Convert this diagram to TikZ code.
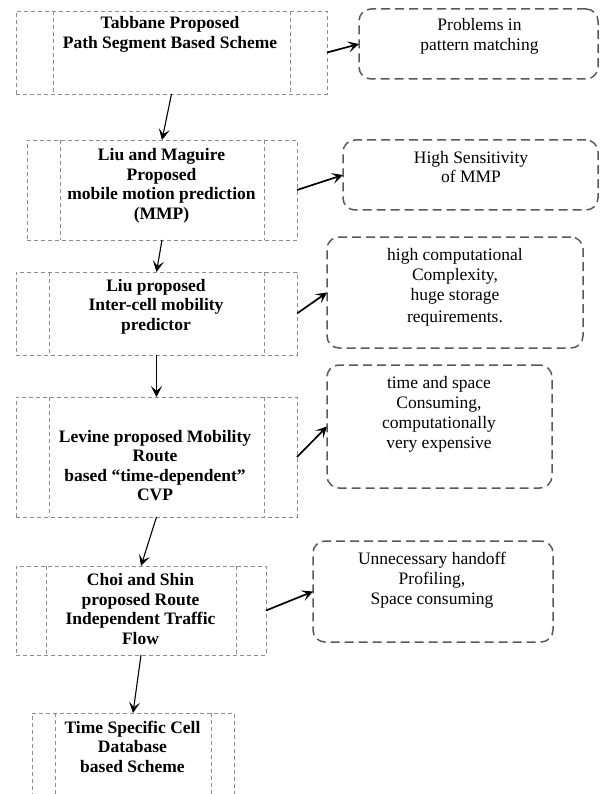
\documentclass[tikz,border=0pt]{standalone}
\usepackage{fontspec}
\setmainfont{Liberation Serif}
\usepackage{tikz}
\usetikzlibrary{arrows.meta, positioning}
\definecolor{framegray}{HTML}{8C8C8C}
\definecolor{notegray}{HTML}{595959}
\tikzstyle{scheme} = [
  rectangle, draw=framegray, line width=0.8pt,
  dash pattern=on 4pt off 3pt,
  inner sep=0pt, outer sep=0pt
]
\tikzstyle{sideline} = [draw=framegray, line width=0.8pt, dash pattern=on 4pt off 3pt]
\tikzstyle{schemetext} = [
  align=center, font=\fontsize{17.5}{19.5}\selectfont\bfseries
]
\tikzstyle{issue} = [
  rectangle, draw=notegray, line width=1.5pt,
  dash pattern=on 9pt off 5pt, rounded corners=12pt,
  inner sep=0pt, outer sep=0pt
]
\tikzstyle{issuetext} = [
  align=center, font=\fontsize{17.5}{19.8}\selectfont
]
\tikzstyle{arrow} = [-{Stealth[length=11pt, width=11pt, inset=5pt]}, line width=1.1pt]
\tikzstyle{sidearrow} = [-{Stealth[length=11pt, width=11pt, inset=5pt]}, line width=1.7pt]
\begin{document}
\begin{tikzpicture}[x=1pt, y=-1pt]
  \useasboundingbox (0,0) rectangle (599,794);
  \clip (0,0) rectangle (599,794);

  % Schemes (left column)
  \node[scheme, minimum width=311pt, minimum height=83pt] (b1) at (171.5,52.5) {};
  \node[scheme, minimum width=270pt, minimum height=100pt] (b2) at (162,190) {};
  \node[scheme, minimum width=281pt, minimum height=83pt] (b3) at (156.5,313.5) {};
  \node[scheme, minimum width=281pt, minimum height=120pt] (b4) at (156.5,457) {};
  \node[scheme, minimum width=250pt, minimum height=89pt] (b5) at (141,610.5) {};
  \node[scheme, minimum width=202pt, minimum height=97pt] (b6) at (133,761.5) {};

  \foreach \b/\d in {b1/37,b2/33,b3/33,b4/33,b5/30,b6/23} {
    \draw[sideline] ([xshift=\d pt]\b.north west) -- ([xshift=\d pt]\b.south west);
    \draw[sideline] ([xshift=-\d pt]\b.north east) -- ([xshift=-\d pt]\b.south east);
  }

  \node[schemetext] (t1) at (170,34.5) {Tabbane Proposed\\Path Segment Based Scheme};
  \node[schemetext] (t2) at (161.5,186) {Liu and Maguire\\Proposed\\mobile motion prediction\\(MMP)};
  \node[schemetext] (t3) at (156,306.5) {Liu proposed\\Inter-cell mobility\\predictor};
  \node[schemetext] (t4) at (155,465.5) {Levine proposed Mobility\\Route\\based ``time-dependent''\\CVP};
  \node[schemetext] (t5) at (140.5,609) {Choi and Shin\\proposed Route\\Independent Traffic\\Flow};
  \node[schemetext] (t6) at (132.5,746.5) {Time Specific Cell\\Database\\based Scheme};

  % Drawbacks (right column)
  \node[issue, minimum width=239pt, minimum height=70pt] (r1) at (478.5,44) {};
  \node[issue, minimum width=255pt, minimum height=70pt] (r2) at (470.5,175) {};
  \node[issue, minimum width=256pt, minimum height=111pt] (r3) at (455,292.5) {};
  \node[issue, minimum width=225pt, minimum height=123pt] (r4) at (439.5,426.5) {};
  \node[issue, minimum width=240pt, minimum height=101pt] (r5) at (433,591.5) {};

  \node[issuetext] (n1) at (479.5,36.5) {Problems in\\pattern matching};
  \node[issuetext] (n2) at (471,167) {High Sensitivity\\of MMP};
  \node[issuetext] (n3) at (455,287.5) {high computational\\Complexity,\\huge storage\\[3pt]requirements.};
  \node[issuetext] (n4) at (439,414.5) {time and space\\Consuming,\\computationally\\very expensive};
  \node[issuetext] (n5) at (432,580.5) {Unnecessary handoff\\Profiling,\\Space consuming};

  % Flow between schemes
  \foreach \i/\j in {1/2,2/3,3/4,4/5,5/6}
    \draw[arrow] (b\i.south) -- (b\j.north);

  % Scheme to drawback
  \foreach \i in {1,2,3,4,5}
    \draw[sidearrow] (b\i.east) -- (r\i.west);

\end{tikzpicture}
\end{document}
